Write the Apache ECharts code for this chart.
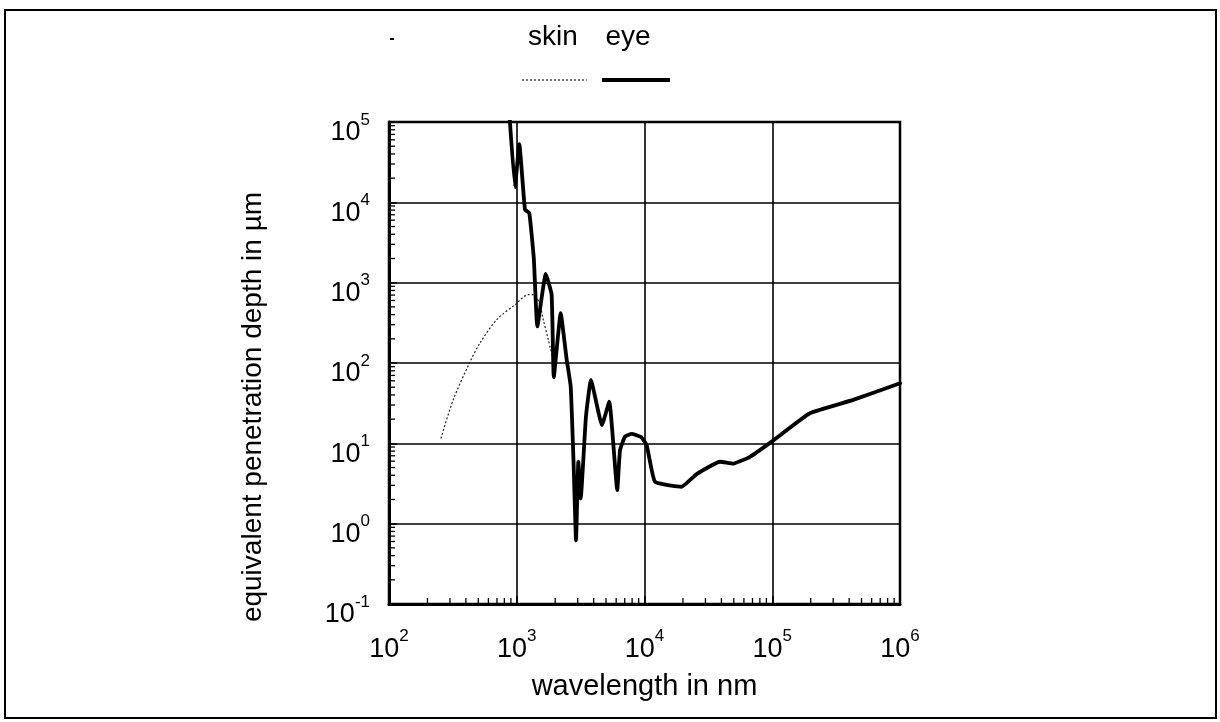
<!DOCTYPE html>
<html>
<head>
<meta charset="utf-8">
<title>Equivalent penetration depth</title>
<script src="https://cdn.jsdelivr.net/npm/echarts@6/dist/echarts.min.js"></script>
<style>
  html, body { margin: 0; padding: 0; background: #fff; }
  #chart { width: 1220px; height: 722px; }
</style>
</head>
<body>
<div id="chart"></div>
<script>
// wavelength (nm) / equivalent penetration depth (µm)
const eyeWavelength = [870, 968, 1047, 1160, 1253, 1360, 1449, 1687, 1875, 1950, 2207, 2460, 2644, 2780,
  2911, 3034, 3166, 3480, 3808, 4645, 5300, 6120, 6430, 7030, 7940, 9400, 10400, 12080, 19540,
  25600, 39000, 49600, 67000, 99000, 197000, 430000, 1000000];
const eyeDepth = [150000, 15500, 53000, 8100, 7400, 2000, 285, 1290, 708, 66.5, 418, 110, 51, 6.2,
  0.62, 5.9, 2.06, 21.5, 61.5, 16.9, 33, 2.62, 8.2, 12.1, 13.1, 12, 9.5, 3.32, 2.88,
  4.14, 5.9, 5.6, 6.8, 10.5, 23.7, 34.7, 56];

const skinWavelength = [255, 318, 425, 515, 696, 968, 1231, 1348, 1500, 1614, 1767, 1930];
const skinDepth = [11.5, 34.7, 99, 177, 345, 531, 708, 708, 560, 345, 194, 110];

const xDecades = [2, 3, 4, 5, 6];
const yDecades = [-1, 0, 1, 2, 3, 4, 5];
const minorSteps = [2, 3, 4, 5, 6, 7, 8, 9];
const legendNames = ['skin', 'eye'];
const xTitle = 'wavelength in nm';
const yTitle = 'equivalent penetration depth in µm';

const toPairs = (xs, ys) => xs.map((x, i) => [x, ys[i]]);

// log-spaced minor ticks along the bottom and left edges
const xMinor = [];
xDecades.slice(0, -1).forEach(d => minorSteps.forEach(m => xMinor.push([m * Math.pow(10, d), 0.1, 'x'])));
const yMinor = [];
yDecades.slice(0, -1).forEach(d => minorSteps.forEach(m => yMinor.push([100, m * Math.pow(10, d), 'y'])));

const FONT = '"Liberation Sans", Arial, sans-serif';
// "10" with the exponent raised as a superscript
const powLabel = v => {
  const e = Math.round(Math.log10(v));
  return '{b|10}{s|' + e + '}';
};
const richPow = {
  b: { fontSize: 27, lineHeight: 27, verticalAlign: 'bottom', fontFamily: FONT, color: '#000' },
  s: { fontSize: 17, lineHeight: 17, padding: [0, 0, 18, 0], verticalAlign: 'bottom', fontFamily: FONT, color: '#000' }
};

const chart = echarts.init(document.getElementById('chart'), null, { renderer: 'canvas' });

chart.setOption({
  backgroundColor: '#fff',
  animation: false,
  textStyle: { fontFamily: FONT },
  grid: {
    left: 389, right: 320, top: 122, bottom: 118,
    show: true, borderColor: '#000', borderWidth: 2.5, backgroundColor: 'transparent'
  },
  xAxis: {
    type: 'log', logBase: 10, min: 100, max: 1000000,
    name: xTitle, nameLocation: 'middle', nameGap: 68,
    nameTextStyle: { fontSize: 29, color: '#000', fontFamily: FONT },
    axisLine: { lineStyle: { color: '#000', width: 3 } },
    axisTick: { inside: true, length: 8, lineStyle: { color: '#000', width: 1.5 } },
    axisLabel: { formatter: powLabel, rich: richPow, margin: 32 },
    splitLine: { show: true, lineStyle: { color: '#000', width: 1.6 } }
  },
  yAxis: {
    type: 'log', logBase: 10, min: 0.1, max: 100000, splitNumber: 6,
    axisLine: { lineStyle: { color: '#000', width: 3 } },
    axisTick: { inside: true, length: 8, lineStyle: { color: '#000', width: 1.5 } },
    axisLabel: { formatter: powLabel, rich: richPow, margin: 19, padding: [22, 0, 0, 0] },
    splitLine: { show: true, lineStyle: { color: '#000', width: 1.6 } }
  },
  series: [
    {
      name: 'skin', type: 'line', data: toPairs(skinWavelength, skinDepth),
      showSymbol: false, smooth: 0.3,
      lineStyle: { color: '#222', width: 1.2, type: [2, 2] }, z: 3
    },
    {
      name: 'eye', type: 'line', data: toPairs(eyeWavelength, eyeDepth),
      showSymbol: false, smooth: 0.12,
      lineStyle: { color: '#000', width: 3.8, join: 'round', cap: 'round' }, z: 4
    },
    {
      name: 'minor ticks', type: 'custom', data: xMinor.concat(yMinor), silent: true, clip: false, z: 5,
      renderItem: (params, api) => {
        const p = api.coord([api.value(0), api.value(1)]);
        const isX = api.value(2) === 'x';
        const end = isX ? [p[0], p[1] - 6] : [p[0] + 6, p[1]];
        return {
          type: 'line',
          shape: { x1: p[0], y1: p[1], x2: end[0], y2: end[1] },
          style: { stroke: '#000', lineWidth: 1.3 }
        };
      }
    }
  ],
  graphic: [
    { type: 'rect', shape: { x: 5, y: 10, width: 1211, height: 708 }, style: { fill: 'none', stroke: '#000', lineWidth: 2 }, silent: true },
    { type: 'rect', shape: { x: 390, y: 38, width: 4, height: 2 }, style: { fill: '#000' }, silent: true },
    { type: 'text', x: 253, y: 407, rotation: Math.PI / 2,
      style: { text: yTitle, fontSize: 28, fontFamily: FONT, fill: '#000', align: 'center', verticalAlign: 'middle' } },
    { type: 'text', x: 553, y: 37, style: { text: legendNames[0], fontSize: 28, fontFamily: FONT, fill: '#000', align: 'center', verticalAlign: 'middle' } },
    { type: 'text', x: 628, y: 37, style: { text: legendNames[1], fontSize: 28, fontFamily: FONT, fill: '#000', align: 'center', verticalAlign: 'middle' } },
    { type: 'line', shape: { x1: 522, y1: 80, x2: 587, y2: 80 }, style: { stroke: '#222', lineWidth: 1.2, lineDash: [2, 2] } },
    { type: 'line', shape: { x1: 602, y1: 80, x2: 670, y2: 80 }, style: { stroke: '#000', lineWidth: 3.8 } }
  ]
});
</script>
</body>
</html>
